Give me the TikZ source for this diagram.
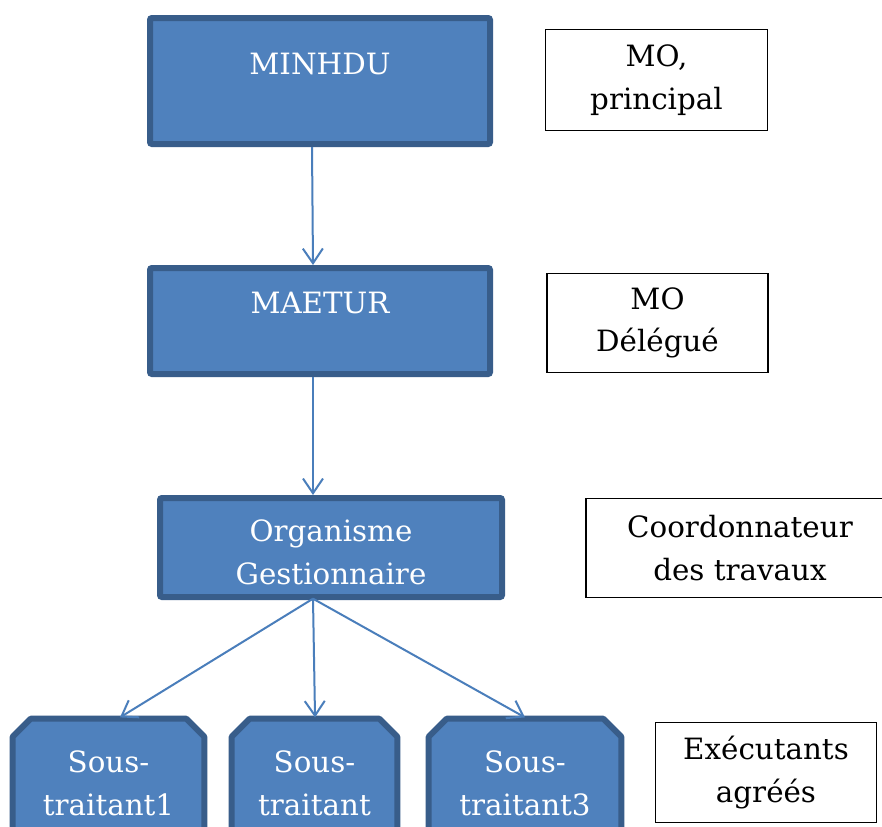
\documentclass[tikz,border=0pt]{standalone}
\usepackage{fontspec}
\setmainfont{DejaVu Serif}
\usetikzlibrary{arrows.meta,backgrounds,calc}
\definecolor{bfill}{HTML}{4F81BD}
\definecolor{bline}{HTML}{385D8A}
\definecolor{arrc}{HTML}{4A7EBB}
\tikzset{
  bluebox/.style={draw=bline, fill=bfill, line width=4.5pt, rectangle, rounded corners=1.5pt, inner sep=0pt},
  wtext/.style={text=white, font=\fontsize{22pt}{32pt}\selectfont, align=center, inner sep=0pt},
  ktext/.style={draw=black, line width=1.2pt, fill=white, text=black, font=\fontsize{22pt}{32pt}\selectfont, align=center, inner sep=0pt},
  octlabel/.style={wtext},
  octpath/.style={draw=bline, fill=bfill, line width=4.5pt, line join=round},
  conn/.style={draw=arrc, line width=1.5pt, -{Straight Barb[length=11pt,width=15pt,line width=1.5pt]}}
}
\begin{document}
\begin{tikzpicture}[x=0.75pt,y=-0.75pt]
\useasboundingbox (0,0) rectangle (882,826);
\clip (0,0) rectangle (882,826);

% left blue boxes
\node[bluebox, minimum width=255pt, minimum height=94.5pt] (minhdu) at (320,81) {};
\node[wtext] (minhduT) at (320,64) {MINHDU};
\node[bluebox, minimum width=255pt, minimum height=79.5pt] (maetur) at (320,321) {};
\node[wtext] (maeturT) at (320,303) {MAETUR};
\node[bluebox, minimum width=256.5pt, minimum height=74.25pt] (org) at (331,547.5) {};
\node[wtext] (orgT) at (331,552) {Organisme\\Gestionnaire};

% right label boxes
\node[ktext, minimum width=166.5pt, minimum height=75.5pt] (r1) at (656.5,80) {MO,\\principal};
\node[ktext, minimum width=165.5pt, minimum height=74.5pt] (r2) at (657.5,323) {MO\\Délégué};
\node[ktext, minimum width=231pt, minimum height=74.5pt] (r3) at (740,548) {Coordonnateur\\des travaux};
\node[ktext, minimum width=165.5pt, minimum height=75pt] (r4) at (766,772.5) {Exécutants\\agréés};

% octagon labels (shapes drawn on background)
\node[octlabel, minimum width=143.25pt, minimum height=96pt] (s1) at (108.5,783) {Sous-\\traitant1};
\node[octlabel, minimum width=123.75pt, minimum height=96pt] (s2) at (314.5,783) {Sous-\\traitant};
\node[octlabel, minimum width=144pt, minimum height=96pt] (s3) at (525,783) {Sous-\\traitant3};

\begin{scope}[on background layer]
\clip (0,0) rectangle (882,826);
\fill[white] (0,0) rectangle (882,826);
\foreach \n in {s1,s2,s3}{
  \path[octpath] (\n.south west) -- ([yshift=-13.5pt]\n.north west) -- ([xshift=13.5pt]\n.north west)
     -- ([xshift=-13.5pt]\n.north east) -- ([yshift=-13.5pt]\n.north east) -- (\n.south east) -- cycle;
}
\end{scope}

% connectors
\draw[conn] ([xshift=-6pt]minhdu.south) -- ([xshift=-5.25pt]maetur.north);
\draw[conn] ([xshift=-5.25pt]maetur.south) -- ([xshift=-13.5pt]org.north);
\draw[conn] ([xshift=-13.5pt,yshift=1pt]org.south) -- ([xshift=8.6pt,yshift=1pt]s1.north);
\draw[conn] ([xshift=-13.5pt,yshift=1pt]org.south) -- ([xshift=0.4pt,yshift=1pt]s2.north);
\draw[conn] ([xshift=-13.5pt,yshift=1pt]org.south) -- ([xshift=0pt,yshift=1pt]s3.north);
\end{tikzpicture}
\end{document}
